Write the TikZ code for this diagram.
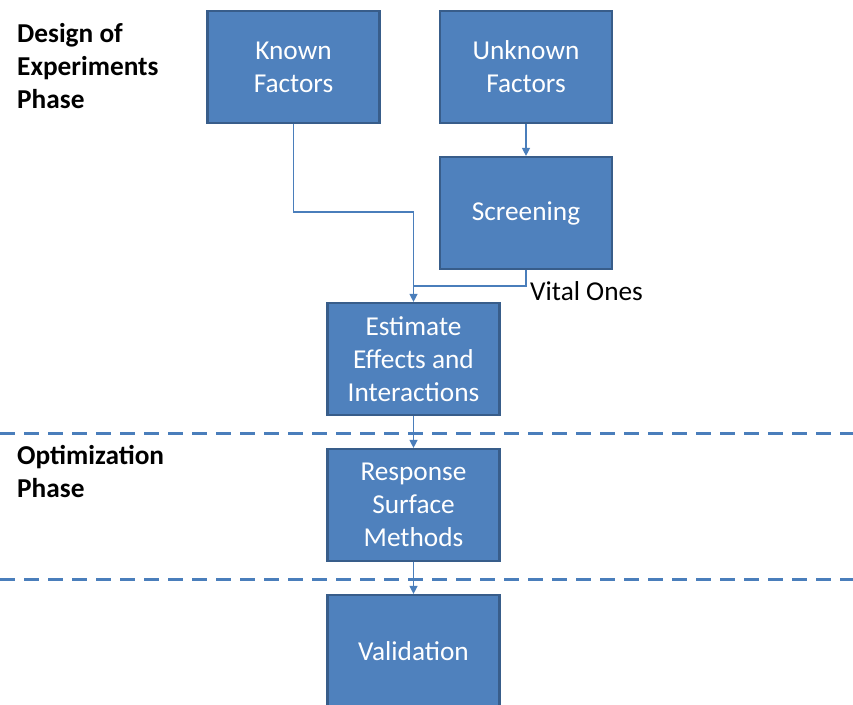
\documentclass[tikz,border=0pt]{standalone}
\usepackage{fontspec}
\setmainfont{Carlito}
\usetikzlibrary{arrows.meta}
\definecolor{boxfill}{HTML}{4F81BD}
\definecolor{boxedge}{HTML}{385D8A}
\definecolor{linkblue}{HTML}{4A7EBB}
\begin{document}
\begin{tikzpicture}[x=1pt,y=-1pt,
  stepbox/.style={draw=boxedge, line width=2.2pt, fill=boxfill, text=white,
    minimum width=172pt, minimum height=112pt, align=center, inner sep=0pt,
    font=\fontsize{27.3}{33}\selectfont},
  link/.style={draw=linkblue, line width=1.3pt},
  arrowlink/.style={link, -{Triangle[length=8pt,width=8pt]}},
  phase/.style={draw=linkblue, line width=3pt, dash pattern=on 15pt off 9pt},
  phaselabel/.style={anchor=north west, align=left, inner sep=0pt,
    font=\fontsize{27.3}{33}\selectfont\bfseries},
  note/.style={anchor=west, inner sep=0pt, font=\fontsize{27.3}{33}\selectfont}]
\useasboundingbox (0,0) rectangle (853,704);
\clip (0,0) rectangle (853,704);

% process boxes
\node[stepbox] (known)    at (293.5,67)  {Known\\Factors};
\node[stepbox] (unknown)  at (526,67)    {Unknown\\Factors};
\node[stepbox] (screen)   at (526,213)   {Screening};
\node[stepbox] (estimate) at (413.5,359) {Estimate\\Effects and\\Interactions};
\node[stepbox] (response) at (413.5,505) {Response\\Surface\\Methods};
\node[stepbox] (valid)    at (413.5,651) {Validation};

% phase separators
\coordinate (sepAl) at (0,433);   \coordinate (sepAr) at (853,433);
\coordinate (sepBl) at (0,579);   \coordinate (sepBr) at (853,579);
\draw[phase] (sepAl) -- (sepAr);
\draw[phase] (sepBl) -- (sepBr);

% phase labels
\node[phaselabel] (doe) at (17,23) {Design of\\Experiments\\Phase};
\node[phaselabel] (opt) at (17,445) {Optimization\\Phase};

% connectors
\coordinate (join) at (413.5,286);
\draw[arrowlink] (unknown.south) -- (screen.north);
\draw[link] (known.south) |- (413.5,212) -- (join);
\draw[link] (screen.south) |- (join);
\draw[arrowlink] (join) -- (estimate.north);
\draw[arrowlink] (estimate.south) -- (response.north);
\draw[arrowlink] (response.south) -- (valid.north);

\node[note] (vital) at (530,291) {Vital Ones};
\end{tikzpicture}
\end{document}
